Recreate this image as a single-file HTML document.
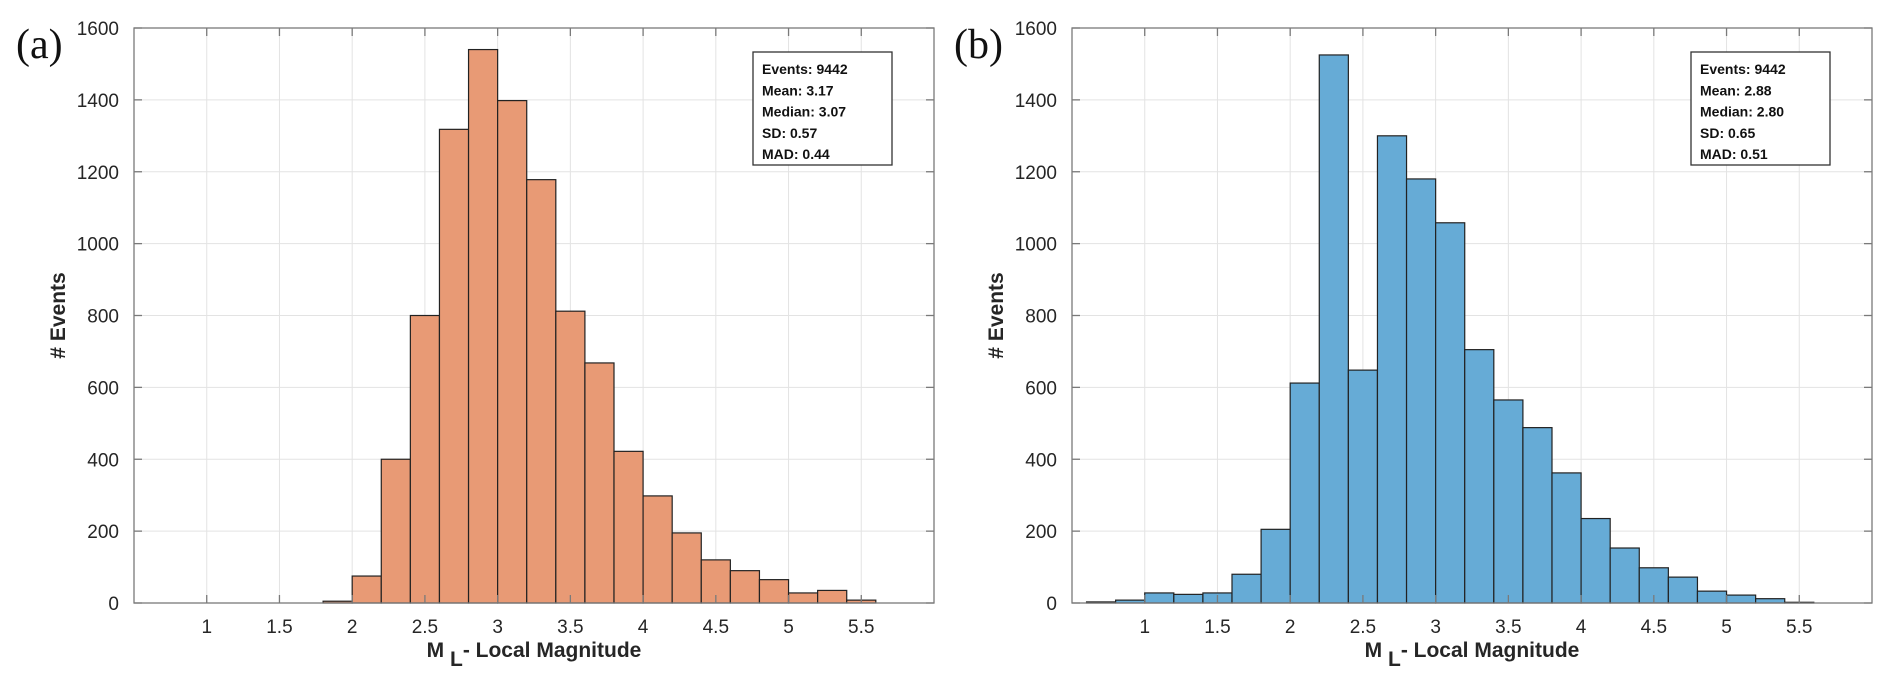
<!DOCTYPE html>
<html><head><meta charset="utf-8"><style>
body{margin:0;background:#fff;}
svg{display:block;font-family:"Liberation Sans",Arial,sans-serif;}
</style></head><body>
<svg id="fig" width="1892" height="686" viewBox="0 0 1892 686" xmlns="http://www.w3.org/2000/svg"></svg>
<script>
const binEdgesA = [1.8,2.0,2.2,2.4,2.6,2.8,3.0,3.2,3.4,3.6,3.8,4.0,4.2,4.4,4.6,4.8,5.0,5.2,5.4];
const countsA = [5,75,400,800,1318,1540,1398,1178,812,668,422,298,195,120,90,65,28,35,8];
const binEdgesB = [0.6,0.8,1.0,1.2,1.4,1.6,1.8,2.0,2.2,2.4,2.6,2.8,3.0,3.2,3.4,3.6,3.8,4.0,4.2,4.4,4.6,4.8,5.0,5.2,5.4];
const countsB = [3,8,28,24,28,80,205,612,1525,648,1300,1180,1058,705,565,488,362,235,153,98,72,33,22,12,2];
const xTicks = [1,1.5,2,2.5,3,3.5,4,4.5,5,5.5];
const yTicks = [0,200,400,600,800,1000,1200,1400,1600];
const statsA = ["Events: 9442","Mean: 3.17","Median: 3.07","SD: 0.57","MAD: 0.44"];
const statsB = ["Events: 9442","Mean: 2.88","Median: 2.80","SD: 0.65","MAD: 0.51"];
const binWidth = 0.2;

const NS="http://www.w3.org/2000/svg";
const svg=document.getElementById('fig');
function mk(tag,attrs,parent){const e=document.createElementNS(NS,tag);for(const k in attrs)e.setAttribute(k,attrs[k]);(parent||svg).appendChild(e);return e;}

function panel(id,left,edges,counts,fill,stats,boxX,letter){
  const L=left,R=left+800,T=28,B=603;
  const xs=v=>L+(v-0.5)/(6-0.5)*(R-L);
  const ys=v=>B-v/1600*(B-T);
  const g=mk('g',{});
  
  
  // grid
  xTicks.forEach(t=>{const l=mk('line',{x1:xs(t),x2:xs(t),y1:T,y2:B,stroke:'#e3e3e3','stroke-width':1},g);
    });
  yTicks.forEach(t=>{const l=mk('line',{x1:L,x2:R,y1:ys(t),y2:ys(t),stroke:'#e3e3e3','stroke-width':1},g);
    });
  // bars
  edges.forEach((e,i)=>{
    const x0=xs(e),x1=xs(e+binWidth),y=ys(counts[i]);
    const r=mk('rect',{x:x0,y:y,width:x1-x0,height:B-y,fill:fill,stroke:'#222','stroke-width':1.2},g);
    
    
  });
  // axes box
  const ax=mk('rect',{x:L,y:T,width:R-L,height:B-T,fill:'none',stroke:'#7a7a7a','stroke-width':1.3},g);
  
  // ticks
  xTicks.forEach(t=>{
    mk('line',{x1:xs(t),x2:xs(t),y1:B,y2:B-8,stroke:'#7a7a7a','stroke-width':1.3},g);
    mk('line',{x1:xs(t),x2:xs(t),y1:T,y2:T+8,stroke:'#7a7a7a','stroke-width':1.3},g);
    const tx=mk('text',{x:xs(t),y:B+30,'text-anchor':'middle','font-size':19,fill:'#262626'},g);
    tx.textContent=String(t);
    
  });
  yTicks.forEach(t=>{
    mk('line',{x1:L,x2:L+8,y1:ys(t),y2:ys(t),stroke:'#7a7a7a','stroke-width':1.3},g);
    mk('line',{x1:R,x2:R-8,y1:ys(t),y2:ys(t),stroke:'#7a7a7a','stroke-width':1.3},g);
    const tx=mk('text',{x:L-15,y:ys(t)+7,'text-anchor':'end','font-size':19,fill:'#262626'},g);
    tx.textContent=String(t);
    
  });
  // y label
  const yl=mk('text',{x:0,y:0,transform:`translate(${L-69},${(T+B)/2}) rotate(-90)`,'text-anchor':'middle','font-size':21,'font-weight':'bold',fill:'#262626'},g);
  yl.textContent='# Events';
  
  // x label
  const xl=mk('text',{x:L+400,y:657,'text-anchor':'middle','font-size':21,'font-weight':'bold',fill:'#262626'},g);
  xl.innerHTML='M<tspan dy="9" font-size="21"> L</tspan><tspan dy="-9">- Local Magnitude</tspan>';
  
  // stats box
  const sb=mk('rect',{x:boxX,y:52,width:139,height:113,fill:'#fff',stroke:'#333','stroke-width':1.3},g);
  
  stats.forEach((s,i)=>{
    const t=mk('text',{x:boxX+9,y:74+i*21.3,'font-size':14,'font-weight':'bold',fill:'#111'},g);
    t.textContent=s;
    
  });
  // panel letter
  const pl=mk('text',{x:left-118,y:58,'font-size':42,'font-family':'"Liberation Serif",serif',fill:'#111'},g);
  pl.textContent=letter;
  
}
panel('panel-a',134,binEdgesA,countsA,'#e89a75',statsA,753,'(a)');
panel('panel-b',1072,binEdgesB,countsB,'#66abd6',statsB,1691,'(b)');
</script>
</body></html>
